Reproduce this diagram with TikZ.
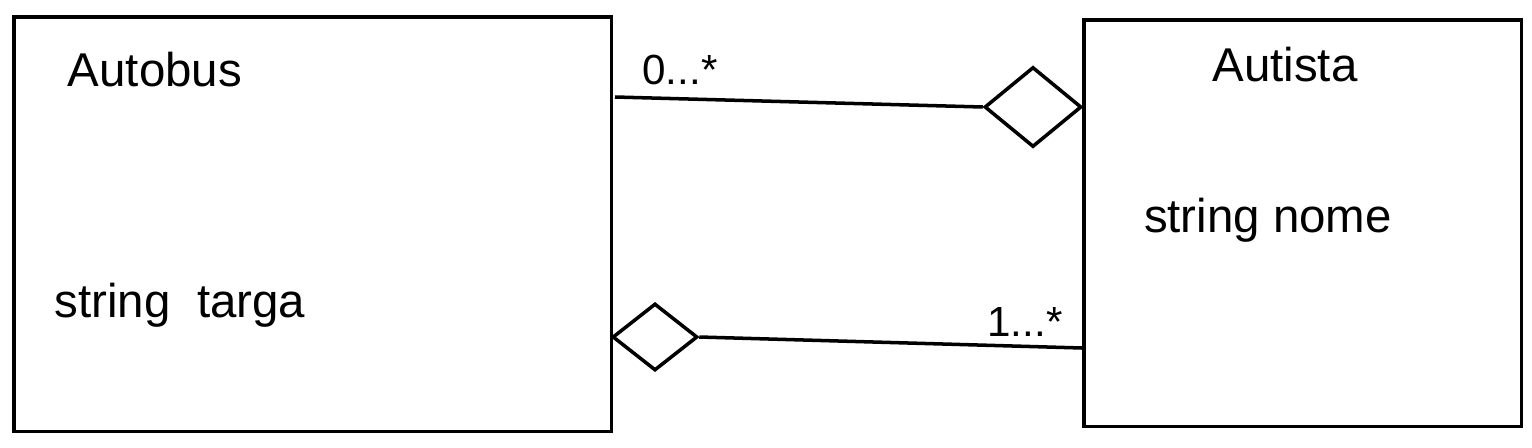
\documentclass[tikz,border=0pt]{standalone}
\usepackage{fontspec}
\setmainfont{Liberation Sans}
\usetikzlibrary{shapes.geometric,positioning}

\begin{document}
\begin{tikzpicture}[
    x=0.02cm, y=-0.02cm,
    cls/.style={draw, line width=2pt, inner sep=0pt, anchor=north west},
    agg/.style={draw, diamond, line width=2pt, inner sep=0pt},
    hand/.style={font=\fontsize{27}{31}\selectfont, inner sep=0pt},
    mult/.style={font=\fontsize{24}{28}\selectfont, inner sep=0pt}
]
\useasboundingbox (0,0) rectangle (1532,447);

\node[cls, minimum width=11.96cm, minimum height=8.3cm] (autobus) at (12,15) {};
\node[cls, minimum width=8.76cm, minimum height=8.14cm] (autista) at (1082,18) {};

\node[hand] (autobusname) at (155,70) {Autobus};
\node[hand] (targa) at (180,305) {string\ \ targa};
\node[hand] (autistaname) at (1285,65) {Autista};
\node[hand] (nome) at (1268,220) {string nome};

\node[agg, minimum width=1.94cm, minimum height=1.6cm] (aggtop) at (1033,107) {};
\node[agg, minimum width=1.7cm, minimum height=1.34cm] (aggbot) at (655,337) {};

\coordinate (topstart) at (615,97);
\coordinate (botend) at (1082,348);

\draw[line width=2pt] (topstart) -- (aggtop.west);
\draw[line width=2pt] (aggbot.east) -- (botend);

\node[mult] (multtop) at (680,70) {0...*};
\node[mult] (multbot) at (1025,322) {1...*};
\end{tikzpicture}
\end{document}
